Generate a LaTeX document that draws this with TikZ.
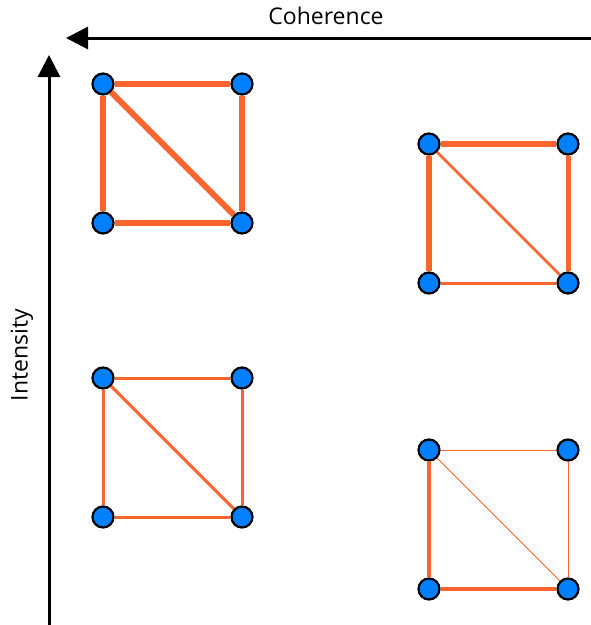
\documentclass[tikz,border=0pt]{standalone}
\usepackage{fontspec}
\setmainfont{Open Sans}
\usetikzlibrary{arrows.meta}
\definecolor{edgeor}{RGB}{250,100,45}
\definecolor{nodeblue}{RGB}{0,128,255}
\tikzset{
  vtx/.style={circle,fill=nodeblue,draw=black,line width=2.2pt,minimum size=21pt,inner sep=0pt},
  edg/.style={draw=edgeor},
  axis/.style={line width=3pt,-{Triangle[length=22pt,width=22pt]}},
  lbl/.style={font=\fontsize{23}{27}\selectfont},
}
\begin{document}
\begin{tikzpicture}[x=1pt,y=-1pt]
\useasboundingbox (0,0) rectangle (591,625);
% axes
\coordinate (hx0) at (591,38);
\coordinate (hx1) at (66,38);
\coordinate (vy0) at (49,625);
\coordinate (vy1) at (49,55);
\draw[axis] (hx0) -- (hx1);
\draw[axis] (vy0) -- (vy1);
\node[lbl] (coh) at (326,16) {Coherence};
\node[lbl,rotate=90] (int) at (22,355) {Intensity};
% square 1
\node[vtx] (a1) at (103,84) {};
\node[vtx] (b1) at (242,84) {};
\node[vtx] (c1) at (103,223) {};
\node[vtx] (d1) at (242,223) {};
% square 2
\node[vtx] (a2) at (429,144) {};
\node[vtx] (b2) at (568,144) {};
\node[vtx] (c2) at (429,283) {};
\node[vtx] (d2) at (568,283) {};
% square 3
\node[vtx] (a3) at (103,378) {};
\node[vtx] (b3) at (242,378) {};
\node[vtx] (c3) at (103,517) {};
\node[vtx] (d3) at (242,517) {};
% square 4
\node[vtx] (a4) at (429,450) {};
\node[vtx] (b4) at (568,450) {};
\node[vtx] (c4) at (429,589) {};
\node[vtx] (d4) at (568,589) {};
% edges square 1
\draw[edg,line width=6pt] (a1) -- (b1);
\draw[edg,line width=6pt] (a1) -- (c1);
\draw[edg,line width=6pt] (a1) -- (d1);
\draw[edg,line width=6pt] (b1) -- (d1);
\draw[edg,line width=6pt] (c1) -- (d1);
% edges square 2
\draw[edg,line width=6pt] (a2) -- (b2);
\draw[edg,line width=6pt] (a2) -- (c2);
\draw[edg,line width=2.5pt] (a2) -- (d2);
\draw[edg,line width=5pt] (b2) -- (d2);
\draw[edg,line width=3pt] (c2) -- (d2);
% edges square 3
\draw[edg,line width=3pt] (a3) -- (b3);
\draw[edg,line width=3pt] (a3) -- (c3);
\draw[edg,line width=3pt] (a3) -- (d3);
\draw[edg,line width=3pt] (b3) -- (d3);
\draw[edg,line width=3pt] (c3) -- (d3);
% edges square 4
\draw[edg,line width=1pt] (a4) -- (b4);
\draw[edg,line width=3.5pt] (a4) -- (c4);
\draw[edg,line width=0.8pt] (a4) -- (d4);
\draw[edg,line width=1pt] (b4) -- (d4);
\draw[edg,line width=3.5pt] (c4) -- (d4);
\end{tikzpicture}
\end{document}
